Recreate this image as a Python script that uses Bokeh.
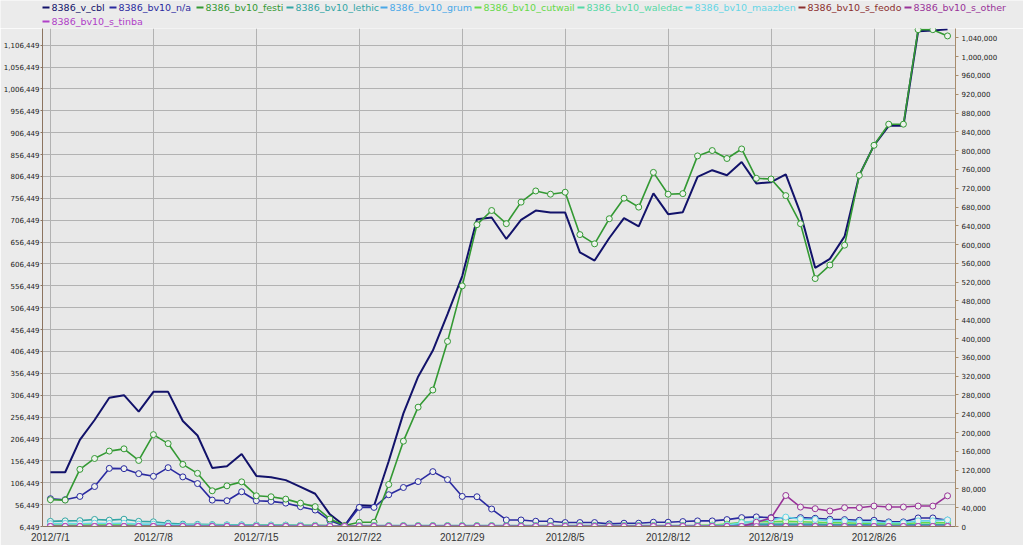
import pandas as pd
from datetime import datetime
from bokeh.plotting import figure
from bokeh.models import (Range1d, LinearAxis, FixedTicker, NumeralTickFormatter,
                          CustomJSTickFormatter, ColumnDataSource)
from bokeh.core.properties import value
from bokeh.embed import file_html
from bokeh.resources import INLINE

# ---------------- data ----------------
dates = pd.date_range("2012-07-01", "2012-08-31", freq="D")
tick_dates = pd.date_range("2012-07-01", "2012-08-26", freq="7D")

left_ticks = [6449 + 50000 * k for k in range(23)]
right_ticks = [40000 * k for k in range(27)]

v_cbl = [130500, 130500, 204400, 249800, 300600, 306500, 268900, 314200, 314200, 247500,
         214400, 140300, 144100, 172000, 122100, 119200, 112400, 97200, 81300, 34300,
         8000, 54800, 53400, 155500, 265000, 348900, 408600, 491800, 578700, 708800,
         712500, 663500, 707300, 728400, 723800, 723800, 633100, 614300, 665800, 711100,
         692100, 767800, 720200, 724700, 805500, 820700, 809300, 839500, 790500, 793400,
         810900, 722500, 597700, 618100, 669400, 809300, 877400, 922000, 922000, 1138200,
         1139800, 1142500]

bv10_na = [59100, 57000, 64000, 85100, 123700, 123100, 112500, 106800, 125200, 105600,
           91400, 56200, 54900, 73900, 54900, 53400, 49800, 42200, 35000, 12700,
           600, 40700, 40700, 67600, 83000, 95600, 116800, 99900, 64000, 63300,
           37200, 13900, 13900, 11200, 11200, 8400, 8400, 8400, 5500, 7000,
           7000, 9100, 9100, 10500, 11900, 11900, 14700, 18900, 20400, 18900,
           17000, 18900, 17500, 15400, 14700, 13300, 13300, 9800, 9800, 18200,
           18200, 13300]

bv10_festi = [57000, 56200, 121600, 144800, 160500, 165300, 140600, 195500, 176500, 132200,
              113200, 76000, 86600, 95000, 65400, 63300, 58300, 49800, 42200, 16000,
              2100, 9100, 9100, 89300, 181600, 254000, 290500, 394000, 512200, 642500,
              672600, 644600, 690400, 714200, 707300, 711500, 621300, 601700, 655100, 698800,
              679800, 753700, 707300, 708500, 788800, 800200, 783300, 803600, 741100, 739600,
              704300, 644600, 527800, 556500, 598800, 747400, 811400, 856300, 856300, 1057500,
              1057500, 1044200]

bv10_lethic = [11000, 12000, 12500, 15000, 13500, 15500, 11000, 10000, 7000, 5000,
               4500, 4000, 3500, 3500, 3000, 3000, 3000, 2500, 2500, 2000,
               0, 2000, 2000, 2000, 2000, 2000, 2000, 2000, 2000, 2000,
               2000, 2000, 2000, 2000, 2000, 2000, 2000, 2000, 2000, 2000,
               2000, 2000, 2000, 2000, 2000, 2000, 3000, 4000, 5000, 5000,
               5000, 5000, 5000, 4000, 4000, 4000, 3000, 3000, 3000, 4000,
               4000, 4000]

bv10_grum = [1000, 1000, 1000, 1000, 1000, 1000, 1000, 1000, 1000, 1000,
             1000, 1000, 1000, 1000, 1000, 1000, 1000, 1000, 1000, 1000,
             0, 1000, 1000, 1000, 1000, 1000, 1000, 1000, 1000, 1000,
             1000, 1000, 1000, 1000, 1000, 1000, 1000, 1000, 1000, 1000,
             1000, 1000, 1000, 1000, 1000, 1000, 1000, 1000, 1000, 1000,
             1000, 1000, 1000, 1000, 1000, 1000, 1000, 1000, 1000, 1000,
             1000, 1000]

bv10_cutwail = [3000, 3000, 3000, 3500, 3500, 3500, 3000, 3000, 3000, 2500,
                2500, 2500, 2000, 2000, 2000, 2000, 2000, 2000, 2000, 1500,
                0, 1500, 1500, 1500, 1500, 1500, 1500, 1500, 1500, 1500,
                1500, 1500, 1500, 1500, 1500, 1500, 1500, 1500, 1500, 1500,
                1500, 1500, 1500, 1500, 2000, 3000, 5000, 9000, 10000, 10000,
                11000, 10000, 9000, 8000, 8000, 7000, 7000, 6000, 6000, 8000,
                8000, 8000]

bv10_waledac = [0] * 62

bv10_maazben = [6000, 6500, 6000, 7000, 6500, 7000, 5000, 5000, 4000, 3000,
                3000, 2500, 2500, 2500, 2000, 2000, 2000, 2000, 1500, 1500,
                0, 1000, 1000, 1000, 1000, 1000, 1000, 1000, 1000, 1000,
                1000, 1000, 1000, 1000, 1000, 1000, 1000, 1000, 1000, 1000,
                1000, 1000, 1000, 1000, 1500, 2000, 3000, 8000, 12000, 14000,
                20000, 16000, 15000, 12000, 12000, 10000, 9000, 8000, 8000, 12000,
                12000, 14000]

bv10_s_feodo = [0] * 62

bv10_s_other = [0] * 48 + [9000, 18000, 66000, 41400, 37900, 33000, 40000, 40000,
                           43500, 41400, 41400, 43500, 43500, 65300]

bv10_s_tinba = [0] * 62

series_names = ["8386_v_cbl", "8386_bv10_n/a", "8386_bv10_festi", "8386_bv10_lethic",
                "8386_bv10_grum", "8386_bv10_cutwail", "8386_bv10_waledac",
                "8386_bv10_maazben", "8386_bv10_s_feodo", "8386_bv10_s_other",
                "8386_bv10_s_tinba"]
series_values = [v_cbl, bv10_na, bv10_festi, bv10_lethic, bv10_grum, bv10_cutwail,
                 bv10_waledac, bv10_maazben, bv10_s_feodo, bv10_s_other, bv10_s_tinba]

# ---------------- style ----------------
colors = ["#12126a", "#2a2aa0", "#339933", "#33a6a6", "#4aa8e8", "#66d94a",
          "#55d9a6", "#66d6e6", "#8b3030", "#993399", "#b040c8"]
legend_x = [42, 109, 196, 286, 380, 474, 577, 685, 798, 904, 42]
legend_y = [7, 7, 7, 7, 7, 7, 7, 7, 7, 7, 21]
BG = "#ebebeb"
FRAME_BG = "#e8e8e8"

# ---------------- legend strip (separate small figure above the chart) ----------------
leg = figure(width=1023, height=28, output_backend="svg", toolbar_location=None,
             x_range=Range1d(0, 1023), y_range=Range1d(28, 0),
             x_axis_location=None, y_axis_location=None,
             min_border_left=0, min_border_right=0, min_border_top=0, min_border_bottom=0,
             background_fill_color=BG, border_fill_color=BG)
leg.outline_line_color = None
leg.xgrid.visible = False
leg.ygrid.visible = False
lsrc = ColumnDataSource(dict(
    x0=legend_x, x1=[x + 7 for x in legend_x], tx=[x + 9 for x in legend_x],
    y=legend_y, name=series_names, color=colors))
leg.segment(x0="x0", y0="y", x1="x1", y1="y", line_color="color", line_width=2, source=lsrc)
leg.text(x="tx", y="y", text="name", text_color="color", source=lsrc,
         text_font=value("DejaVu Sans"), text_font_size=value("9.5px"),
         text_baseline="middle", text_align="left")

# ---------------- main chart ----------------
p = figure(width=1023, height=517, output_backend="svg", toolbar_location=None,
           x_axis_type="datetime",
           x_range=Range1d(datetime(2012, 6, 30, 11), datetime(2012, 8, 31, 13)),
           y_range=Range1d(6449, 1144500),
           min_border_left=41, min_border_right=68, min_border_top=0, min_border_bottom=17,
           background_fill_color=FRAME_BG, border_fill_color=BG)
p.outline_line_color = None
p.extra_y_ranges = {"right": Range1d(0, 1060000)}

p.yaxis.ticker = FixedTicker(ticks=left_ticks)
p.yaxis.formatter = NumeralTickFormatter(format="0,0")
p.yaxis.major_label_text_font = "DejaVu Sans"
p.yaxis.major_label_text_font_size = "7px"
p.yaxis.major_label_text_color = "#1a1a1a"
p.yaxis.major_label_standoff = 1
p.yaxis.major_tick_out = 2
p.yaxis.major_tick_in = 0
p.yaxis.minor_tick_line_color = None
p.yaxis.axis_line_color = "#8c7460"
p.yaxis.major_tick_line_color = "#8c7460"

ra = LinearAxis(y_range_name="right", ticker=FixedTicker(ticks=right_ticks),
                formatter=NumeralTickFormatter(format="0,0"))
ra.major_label_text_font = "DejaVu Sans"
ra.major_label_text_font_size = "7px"
ra.major_label_text_color = "#1a1a1a"
ra.major_label_standoff = 3
ra.major_tick_out = 3
ra.major_tick_in = 0
ra.minor_tick_line_color = None
ra.axis_line_color = "#a88c6c"
ra.major_tick_line_color = "#a88c6c"
p.add_layout(ra, "right")

p.xaxis.ticker = FixedTicker(ticks=[d.timestamp() * 1000 for d in tick_dates])
p.xaxis.formatter = CustomJSTickFormatter(code="""
const d = new Date(tick);
return d.getUTCFullYear() + "/" + (d.getUTCMonth() + 1) + "/" + d.getUTCDate();
""")
p.xaxis.major_label_text_font = "Liberation Sans"
p.xaxis.major_label_text_font_size = "10px"
p.xaxis.major_label_text_color = "#333333"
p.xaxis.major_label_standoff = 5
p.xaxis.major_tick_out = 0
p.xaxis.major_tick_in = 0
p.xaxis.minor_tick_line_color = None
p.xaxis.axis_line_color = "#8c7460"

p.xgrid.grid_line_color = "#b2b2b2"
p.ygrid.grid_line_color = "#b2b2b2"
p.ygrid.ticker = FixedTicker(ticks=left_ticks)

for i, (vals, col) in enumerate(zip(series_values, colors)):
    if i == 0:
        p.line(dates, vals, line_color=col, line_width=2)
    else:
        p.line(dates, vals, line_color=col, line_width=1.6, y_range_name="right")
        p.scatter(dates, vals, marker="circle", size=6, fill_color="#eef2ee",
                  line_color=col, line_width=1, y_range_name="right")

# two independent roots so the legend strip keeps its own full-width frame
open("out.html", "w").write(file_html([leg, p], INLINE))
